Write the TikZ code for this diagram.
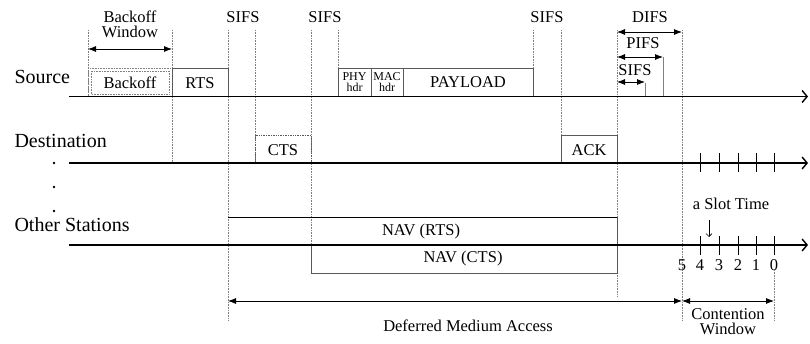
\documentclass[tikz,border=0pt]{standalone}
\usepackage{fontspec}
\setmainfont{Liberation Serif}
\usetikzlibrary{arrows.meta}

\tikzset{
  guide/.style={gray, densely dotted, line width=0.6pt},
  frame/.style={gray!70!black, line width=0.7pt},
  dimarrow/.style={{Latex[length=8pt,width=6pt]}-{Latex[length=8pt,width=6pt]}, line width=0.8pt},
  timeline/.style={line width=1.4pt, -{Straight Barb[length=5pt,width=12pt]}},
  slottick/.style={line width=0.8pt},
  bigtext/.style={font=\fontsize{20}{22}\selectfont},
  midtext/.style={font=\fontsize{16.5}{18}\selectfont},
  smalltext/.style={font=\fontsize{12}{11}\selectfont, align=center},
}

\begin{document}
\begin{tikzpicture}[x=1pt,y=-1pt]
\useasboundingbox (0,0) rectangle (810,343);
%\draw[step=20,gray!30,very thin] (0,0) grid (810,343);

% dotted time marks
\foreach \x/\ya/\yb in {88/30/96, 172/30/163, 228/30/320, 255/30/163, 311/30/245,
                        338/30/96, 533/30/96, 561/30/163, 617/30/296, 682/30/320, 774/270/320}
  \draw[guide] (\x,\ya) -- (\x,\yb);

% labels on top
\node[midtext, align=center] (bowin) at (130,24) {Backoff\\[-3pt]Window};
\draw[dimarrow] (88,49) -- (172,49);
\node[midtext] (sifsa) at (243,17) {SIFS};
\node[midtext] (sifsb) at (325,17) {SIFS};
\node[midtext] (sifsc) at (547,17) {SIFS};
\node[midtext] (difs) at (650,17) {DIFS};
\node[midtext] (pifs) at (643,43) {PIFS};
\node[midtext] (sifsd) at (635,70) {SIFS};
\draw[dimarrow] (617,32) -- (682,32);
\draw[dimarrow] (617,57) -- (663,57);
\draw[dimarrow] (617,82) -- (645,82);
\draw[frame, gray] (663,57) -- (663,96);
\draw[frame, gray] (645,83) -- (645,96);

% source
\node[bigtext, anchor=west] (src) at (11,77) {Source};
\draw[guide] (88,68) rectangle (172,96.5);
\draw[guide] (91,71) rectangle (169,94);
\node[midtext] (bo) at (130,83) {Backoff};
\draw[frame] (172,68) rectangle (228,96.5);
\node[midtext] (rts) at (200,83) {RTS};
\draw[frame] (338,68) rectangle (371,96.5);
\draw[frame] (371,68) rectangle (403,96.5);
\draw[frame] (403,68) rectangle (533,96.5);
\node[smalltext] (phy) at (354.5,82) {PHY\\hdr};
\node[smalltext] (mac) at (387,82) {MAC\\hdr};
\node[midtext] (pay) at (468,82) {PAYLOAD};
\draw[timeline] (69,96.5) -- (808,96.5);

% destination
\node[bigtext, anchor=west] (dst) at (11,141) {Destination};
\draw[frame, densely dotted] (255,135) rectangle (311,163);
\node[midtext] (cts) at (283,150) {CTS};
\draw[frame] (561,135) rectangle (617,163);
\node[midtext] (ack) at (589,150) {ACK};
\draw[timeline] (69,163) -- (808,163);
\foreach \x in {700,719,738,756,774}
  \draw[slottick] (\x,153) -- (\x,172);

\foreach \y in {163,187,211}
  \fill (54,\y) circle (1.3);

% other stations
\node[bigtext, anchor=west] (oth) at (11,225) {Other Stations};
\draw[line width=0.9pt] (228,217) -- (617,217);
\draw[frame] (617,217) -- (617,245);
\node[midtext] (navr) at (421,232) {NAV (RTS)};
\draw[frame] (311,245) -- (311,273) -- (617,273) -- (617,245);
\node[midtext] (navc) at (463,259) {NAV (CTS)};
\draw[timeline] (69,245) -- (808,245);
\foreach \x in {700,719,738,756,774}
  \draw[slottick] (\x,236) -- (\x,255);
\foreach \x/\n in {682/5,700/4,719/3,738/2,756/1,774/0}
  \node[midtext] (n\n) at (\x,265) {\n};
\node[midtext] (slot) at (731,204) {a Slot Time};
\draw[-{Straight Barb[length=3pt,width=6pt]}, line width=0.6pt] (709,220) -- (709,237);

% bottom
\draw[dimarrow] (228,301) -- (682,301);
\draw[dimarrow] (682,301) -- (774,301);
\node[midtext] (dma) at (468,326) {Deferred Medium Access};
\node[midtext, align=center] (cw) at (728,322) {Contention\\[-3pt]Window};

\end{tikzpicture}
\end{document}
